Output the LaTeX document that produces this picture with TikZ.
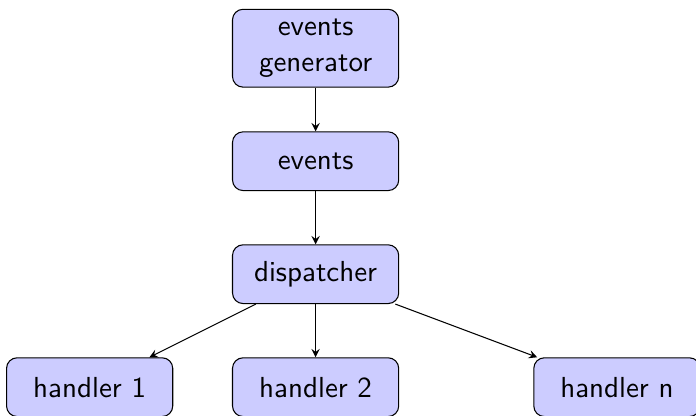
\documentclass[11pt,tikz,border=0pt]{standalone}
\usetikzlibrary{arrows}
\tikzset{block/.style={draw=black, fill=blue!20, rounded corners=4pt, text width=1.95cm, align=center, minimum height=0.78cm, font=\sffamily}}
\tikzset{flow/.style={->, >=stealth}}

\begin{document}
\begin{tikzpicture}
   \useasboundingbox (-4.19,-4.87) rectangle (5.05,0.64);
   \node[block] (gen)  at ( 0.0, 0.0) {events generator};
   \node[block] (ev)   at ( 0.0,-1.5) {events};
   \node[block] (disp) at ( 0.0,-3.0) {dispatcher};
   \node[block] (hA)   at (-3.0,-4.5) {handler 1};
   \node[block] (hB)   at ( 0.0,-4.5) {handler 2};
   \node[block] (hN)   at ( 4.0,-4.5) {handler n};

   \draw[flow] (gen)  -- (ev);
   \draw[flow] (ev)   -- (disp);
   \draw[flow] (disp) -- (hA);
   \draw[flow] (disp) -- (hB);
   \draw[flow] (disp) -- (hN);
\end{tikzpicture}
\end{document}
